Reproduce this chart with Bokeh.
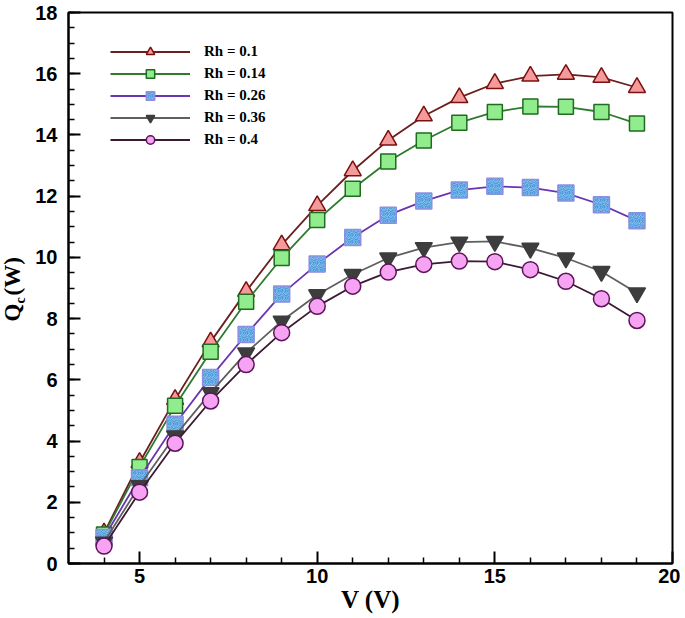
import math
from bokeh.plotting import figure
from bokeh.layouts import row
from bokeh.models import FixedTicker, Range1d, Legend, LegendItem
from bokeh.core.properties import value
from bokeh.embed import file_html
from bokeh.resources import INLINE

# ---- data ----
voltage = [4, 5, 6, 7, 8, 9, 10, 11, 12, 13, 14, 15, 16, 17, 18, 19]
rh_labels = ["Rh = 0.1", "Rh = 0.14", "Rh = 0.26", "Rh = 0.36", "Rh = 0.4"]
qc_rh010 = [1.00, 3.30, 5.36, 7.24, 8.89, 10.41, 11.69, 12.83, 13.83, 14.62, 15.22, 15.68, 15.92, 15.98, 15.88, 15.55]
qc_rh014 = [0.95, 3.15, 5.15, 6.92, 8.55, 9.98, 11.22, 12.24, 13.13, 13.82, 14.40, 14.75, 14.93, 14.92, 14.75, 14.37]
qc_rh026 = [0.85, 2.80, 4.55, 6.08, 7.48, 8.80, 9.78, 10.65, 11.38, 11.84, 12.20, 12.32, 12.28, 12.10, 11.72, 11.20]
qc_rh036 = [0.70, 2.54, 4.17, 5.58, 6.88, 7.92, 8.78, 9.44, 9.98, 10.32, 10.50, 10.52, 10.30, 9.98, 9.54, 8.84]
qc_rh040 = [0.57, 2.33, 3.93, 5.31, 6.50, 7.54, 8.40, 9.06, 9.52, 9.77, 9.88, 9.86, 9.60, 9.22, 8.65, 7.94]
x_major = [5, 10, 15, 20]
x_minor = [4, 6, 7, 8, 9, 11, 12, 13, 14, 16, 17, 18, 19]
y_major = [0, 2, 4, 6, 8, 10, 12, 14, 16, 18]
y_minor = [i * 0.5 for i in range(0, 37)]
x_title = "V (V)"
y_title_parts = ["Q", "c", "(W)"]

series = [qc_rh010, qc_rh014, qc_rh026, qc_rh036, qc_rh040]

# ---- styles ----
styles = [
    dict(marker="triangle", size=17, line="#6b1f1f", fill="#f49a9a", edge="#7a1010"),
    dict(marker="square", size=15, line="#2f7a2f", fill="#90ec8c", edge="#1f6b1f"),
    dict(marker="square", size=16, line="#6a35b0", fill="#bfe4f8", edge="#8d8ee0", hatch="spiral"),
    dict(marker="inverted_triangle", size=17, line="#5f5f5f", fill="#3d3d3d", edge="#3d3d3d"),
    dict(marker="circle", size=16, line="#3d1a33", fill="#f5a3f2", edge="#5c1357"),
]

H = 617
TOP = 12
BOTTOM = 54
LABEL_W = 30

p = figure(width=650, height=H, output_backend="svg", toolbar_location=None,
           x_range=Range1d(3, 20), y_range=Range1d(0, 18),
           min_border_left=38, min_border_right=8, min_border_top=TOP, min_border_bottom=BOTTOM)
p.background_fill_color = "white"
p.border_fill_color = "white"
p.outline_line_color = "black"
p.outline_line_width = 2
p.xgrid.visible = False
p.ygrid.visible = False

items = []
for vals, st, lab in zip(series, styles, rh_labels):
    r_line = p.line(voltage, vals, line_color=st["line"], line_width=1.8)
    kw = dict(marker=st["marker"], size=st["size"], fill_color=st["fill"],
              line_color=st["edge"], line_width=1.5)
    if "hatch" in st:
        kw.update(hatch_pattern=st["hatch"], hatch_color="#4a98dc", hatch_scale=7, hatch_weight=1.1)
    r_mark = p.scatter(voltage, vals, **kw)
    items.append(LegendItem(label=lab, renderers=[r_line, r_mark]))

legend = Legend(items=items, location=(42, 413), margin=0, padding=0,
                glyph_width=80, glyph_height=21, label_height=21, spacing=1,
                label_standoff=14, border_line_alpha=0, background_fill_alpha=0,
                label_text_font="Liberation Serif", label_text_font_style="bold",
                label_text_font_size="15px", label_text_color="black")
p.add_layout(legend, "center")

for ax in (p.xaxis[0], p.yaxis[0]):
    ax.axis_line_width = 2
    ax.major_tick_in = 12
    ax.major_tick_out = 0
    ax.minor_tick_in = 6
    ax.minor_tick_out = 0
    ax.major_tick_line_width = 2
    ax.minor_tick_line_width = 1.5
    ax.major_label_text_font = "Liberation Sans"
    ax.major_label_text_font_style = "bold"
    ax.major_label_text_font_size = "20px"
    ax.major_label_text_color = "black"

p.xaxis.ticker = FixedTicker(ticks=x_major, minor_ticks=x_minor)
p.yaxis.ticker = FixedTicker(ticks=y_major, minor_ticks=y_minor)
p.xaxis.major_label_standoff = 5
p.yaxis.major_label_standoff = 11

p.xaxis.axis_label = x_title
p.xaxis.axis_label_text_font = "Liberation Serif"
p.xaxis.axis_label_text_font_style = "bold"
p.xaxis.axis_label_text_font_size = "25px"
p.xaxis.axis_label_text_color = "black"
p.xaxis.axis_label_standoff = 0

# ---- narrow strip on the left carrying the y-axis title (with subscript) ----
lf = figure(width=LABEL_W, height=H, output_backend="svg", toolbar_location=None,
            x_range=Range1d(0, LABEL_W), y_range=p.y_range, x_axis_type=None, y_axis_type=None,
            min_border_left=0, min_border_right=0, min_border_top=TOP, min_border_bottom=BOTTOM)
lf.outline_line_color = None
lf.xgrid.visible = False
lf.ygrid.visible = False
lf.background_fill_color = "white"
lf.border_fill_color = "white"

ppu = (H - TOP - BOTTOM) / 18.0
def ydat(py):
    return (563 - py) / ppu

common = dict(angle=math.pi / 2, text_font=value("Liberation Serif"),
              text_font_style="bold", text_color="black", text_baseline="middle",
              text_align="left")
lf.text(x=[12], y=[ydat(321)], text=[y_title_parts[0]], text_font_size=value("23px"), **common)
lf.text(x=[20], y=[ydat(303)], text=[y_title_parts[1]], text_font_size=value("14px"), **common)
lf.text(x=[12], y=[ydat(295)], text=[y_title_parts[2]], text_font_size=value("23px"), **common)

layout = row(lf, p, spacing=0)
open("out.html", "w").write(file_html(layout, INLINE))
